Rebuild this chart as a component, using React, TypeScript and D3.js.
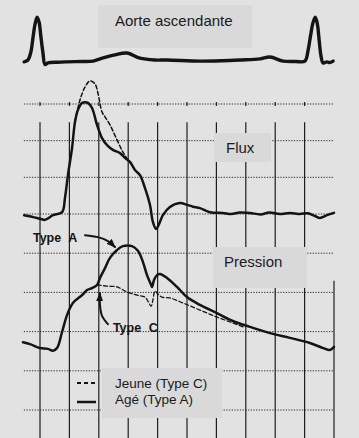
import * as d3 from "d3";

// every point: [time in grid divisions, level in grid divisions above the bottom line]
type Pt = [number, number];

const GRID_T = d3.range(0, 11);
const GRID_ROWS = d3.range(0, 9);

const ECG: Pt[] = [
  [-0.54, 9.15], [-0.41, 9.2], [-0.31, 9.42], [-0.24, 9.8], [-0.17, 10.17], [-0.1, 10.37],
  [-0.03, 10.23], [0.03, 9.84], [0.1, 9.4], [0.17, 9.08], [0.27, 9.12], [0.6, 9.14],
  [0.92, 9.15], [1.4, 9.16], [1.8, 9.17], [2.04, 9.23], [2.55, 9.34], [2.96, 9.39],
  [3.4, 9.25], [3.9, 9.2], [4.32, 9.2], [5.44, 9.17], [6.2, 9.18], [6.8, 9.2],
  [7.48, 9.23], [7.82, 9.28], [8.27, 9.17], [8.7, 9.16], [9.01, 9.17], [9.12, 9.47],
  [9.2, 9.85], [9.28, 10.2], [9.36, 10.37], [9.43, 10.2], [9.5, 9.7], [9.56, 9.3],
  [9.63, 9.12], [9.76, 9.15], [9.85, 9.13], [9.97, 9.17],
];

const FLUX_AGE: Pt[] = [
  [-0.54, 4.97], [-0.4, 4.95], [-0.24, 4.92], [0, 4.88], [0.17, 4.85], [0.3, 4.9],
  [0.44, 4.97], [0.75, 5.05], [0.85, 5.44], [0.95, 6.06], [1.09, 6.8], [1.19, 7.51],
  [1.29, 7.84], [1.43, 8.03], [1.53, 8.05], [1.63, 8.03], [1.77, 7.89], [1.94, 7.43],
  [2.11, 7.07], [2.28, 6.88], [2.48, 6.75], [2.72, 6.66], [2.89, 6.53], [3.06, 6.42],
  [3.23, 6.2], [3.4, 6.06], [3.57, 5.71], [3.74, 5.25], [3.84, 4.8], [3.95, 4.62],
  [4.08, 4.8], [4.18, 4.97], [4.42, 5.19], [4.76, 5.3], [5.0, 5.25], [5.2, 5.2],
  [5.44, 5.16], [5.78, 5.05], [6.22, 5.03], [6.5, 5.0], [6.8, 5.04], [7.14, 5.03],
  [7.5, 4.99], [7.8, 5.04], [8.16, 5.0], [8.5, 5.03], [8.84, 5.0], [9.1, 5.02],
  [9.35, 4.95], [9.52, 4.9], [9.76, 4.97], [10.0, 5.03],
];

const FLUX_JEUNE: Pt[] = [
  [1.19, 7.51], [1.36, 8.11], [1.53, 8.46], [1.7, 8.63], [1.87, 8.55], [1.97, 8.3],
  [2.11, 7.78], [2.21, 7.65], [2.38, 7.43], [2.62, 7.02], [2.82, 6.69], [2.99, 6.47],
];

const PRESS_AGE: Pt[] = [
  [-0.58, 1.73], [-0.34, 1.68], [0, 1.58], [0.27, 1.56], [0.44, 1.51], [0.58, 1.58],
  [0.75, 1.99], [0.92, 2.42], [1.12, 2.73], [1.43, 2.93], [1.6, 3.06], [1.77, 3.11],
  [1.94, 3.19], [2.04, 3.37], [2.21, 3.62], [2.38, 3.88], [2.62, 4.08], [2.82, 4.18],
  [3.13, 4.18], [3.33, 4.06], [3.5, 3.78], [3.64, 3.44], [3.78, 3.19], [3.81, 3.14],
  [3.88, 3.32], [3.98, 3.44], [4.08, 3.47], [4.32, 3.37], [4.66, 3.14], [5.0, 2.88],
  [5.44, 2.68], [6.02, 2.47], [6.56, 2.27], [7.14, 2.12], [7.82, 1.96], [8.5, 1.84],
  [9.18, 1.71], [9.63, 1.58], [9.86, 1.53], [10.0, 1.61],
];

const PRESS_JEUNE: Pt[] = [
  [1.94, 3.19], [2.28, 3.16], [2.62, 3.14], [2.96, 3.01], [3.3, 2.93], [3.57, 2.88],
  [3.67, 2.78], [3.78, 2.65], [3.84, 2.81], [3.91, 3.04], [3.98, 2.98], [4.15, 2.88],
  [4.42, 2.86], [4.86, 2.73], [5.44, 2.55], [6.02, 2.37], [6.56, 2.22], [6.9, 2.12],
];

const ARROW_A: Pt[] = [[1.53, 4.46], [1.97, 4.41], [2.31, 4.31], [2.55, 4.16]];
const ARROW_C: Pt[] = [[2.31, 2.19], [2.11, 2.4], [2.04, 2.68], [2.04, 2.98]];
const LABEL_A: Pt = [-0.24, 4.29];
const LABEL_C: Pt = [2.48, 1.99];

const TITLES = ["Aorte ascendante", "Flux", "Pression"];
const LEGEND = ["Jeune (Type C)", "Agé (Type A)"];

const W = 359;
const H = 438;
const BG = "#e2e2e2";
const BOX = "#d9d9d9";
const INK = "#141414";
const FONT = "'Liberation Sans', Arial, sans-serif";

export default function App() {
  const x = d3.scaleLinear().domain([0, 10]).range([40, 334]);
  const y = d3.scaleLinear().domain([0, 5, 8]).range([410, 214, 104]);
  const line = d3
    .line<Pt>()
    .x((d) => x(d[0]))
    .y((d) => y(d[1]))
    .curve(d3.curveCatmullRom.alpha(0.5));

  const left = x(-0.55);
  const right = x(10);

  const boxes = [
    { x: 98, y: 5, w: 154, h: 43, text: TITLES[0], tx: 115, ty: 26 },
    { x: 214, y: 133, w: 57, h: 29, text: TITLES[1], tx: 226, ty: 153 },
    { x: 213, y: 247, w: 94, h: 41, text: TITLES[2], tx: 224, ty: 267 },
  ];

  return (
    <svg
      width={W}
      height={H}
      style={{ position: "fixed", left: 0, top: 0, background: BG }}
      fontFamily={FONT}
    >
      <defs>
        <marker id="ah" markerUnits="userSpaceOnUse" markerWidth={9} markerHeight={7}
          refX={8} refY={3.5} orient="auto">
          <path d="M0,0 L9,3.5 L0,7 z" fill={INK} />
        </marker>
      </defs>
      <rect width={W} height={H} fill={BG} />

      {/* grid */}
      <g stroke="#333" strokeWidth={1} strokeDasharray="1.3 1.4">
        {GRID_ROWS.map((r) => (
          <line key={r} x1={left} x2={right} y1={y(8 - r)} y2={y(8 - r)} />
        ))}
      </g>
      <g stroke="#1e1e1e" strokeWidth={1.2}>
        {GRID_T.map((t) => (
          <line key={t} x1={x(t)} x2={x(t)} y1={t === 10 ? y(3.3) : y(7.5)} y2={H} />
        ))}
        {GRID_T.slice(0, 10).map((t) => (
          <line key={"k" + t} x1={x(t)} x2={x(t)} y1={y(8) - 2} y2={y(8) + 2} />
        ))}
      </g>

      {/* labelled boxes */}
      {boxes.map((b) => (
        <g key={b.text}>
          <rect x={b.x} y={b.y} width={b.w} height={b.h} fill={BOX} />
          <text x={b.tx} y={b.ty} fontSize={15} fill="#1a1a22">{b.text}</text>
        </g>
      ))}
      <rect x={102} y={368} width={120} height={50} fill={BOX} />

      {/* traces */}
      <g fill="none" stroke={INK} strokeLinejoin="round" strokeLinecap="round">
        <path d={line(ECG) ?? ""} strokeWidth={3.4} />
        <path d={line(FLUX_JEUNE) ?? ""} strokeWidth={1.5} strokeDasharray="4 2.5" />
        <path d={line(FLUX_AGE) ?? ""} strokeWidth={2.5} />
        <path d={line(PRESS_JEUNE) ?? ""} strokeWidth={1.3} strokeDasharray="4 2.5" />
        <path d={line(PRESS_AGE) ?? ""} strokeWidth={2.5} />
        <path d={line(ARROW_A) ?? ""} strokeWidth={2} markerEnd="url(#ah)" />
        <path d={line(ARROW_C) ?? ""} strokeWidth={2} markerEnd="url(#ah)" />
      </g>

      <text x={x(LABEL_A[0])} y={y(LABEL_A[1])} fontSize={12.5} fontWeight="bold"
        fill={INK} wordSpacing={4}>Type A</text>
      <text x={x(LABEL_C[0])} y={y(LABEL_C[1])} fontSize={12.5} fontWeight="bold"
        fill={INK} wordSpacing={4}>Type C</text>

      {/* legend */}
      <line x1={77} x2={97} y1={383} y2={383} stroke={INK} strokeWidth={2} strokeDasharray="4 3" />
      <line x1={77} x2={96} y1={402} y2={402} stroke={INK} strokeWidth={2.5} />
      {LEGEND.map((s, i) => (
        <text key={s} x={115} y={388 + i * 16} fontSize={13.5} fill="#1a1a22">{s}</text>
      ))}
    </svg>
  );
}
